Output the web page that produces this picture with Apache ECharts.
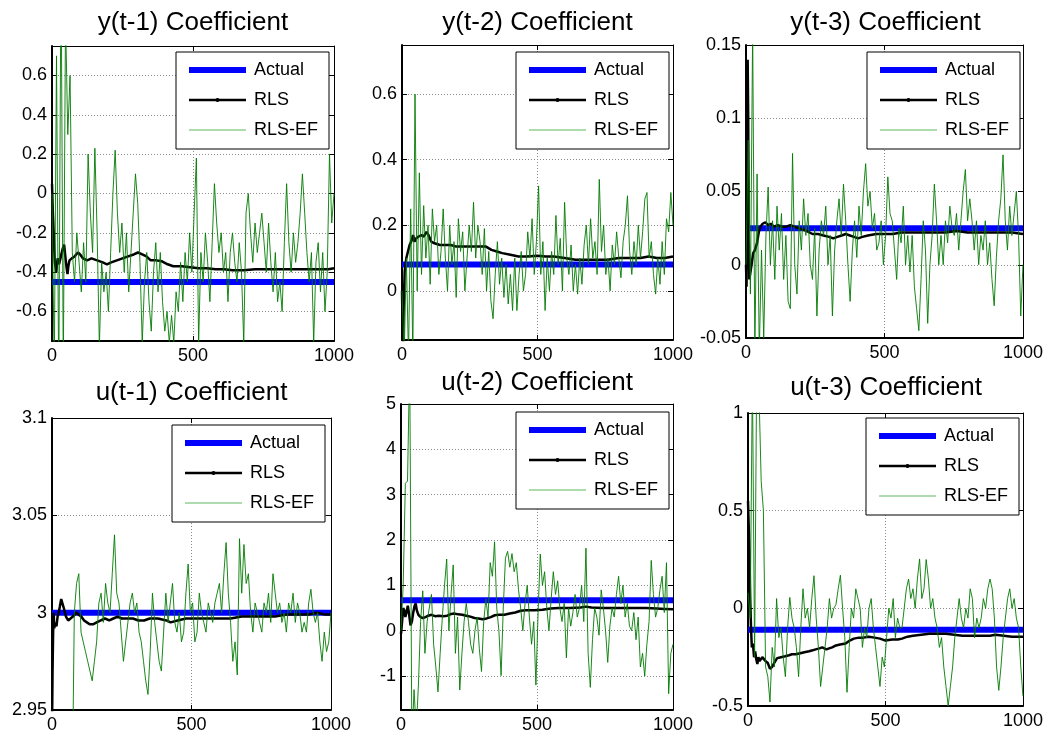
<!DOCTYPE html>
<html>
<head>
<meta charset="utf-8">
<title>RLS coefficient estimates</title>
<script src="https://cdn.jsdelivr.net/npm/echarts@6/dist/echarts.min.js"></script>
<style>
  html, body { margin: 0; padding: 0; background: #ffffff; }
  #chart { width: 1046px; height: 736px; }
</style>
</head>
<body>
<div id="chart"></div>
<script>
// ---- data -------------------------------------------------------------

const titles = [
  'y(t-1) Coefficient', 'y(t-2) Coefficient', 'y(t-3) Coefficient',
  'u(t-1) Coefficient', 'u(t-2) Coefficient', 'u(t-3) Coefficient'
];
const seriesNames = ['Actual', 'RLS', 'RLS-EF'];

// true parameter values
const actualValues = [-0.45, 0.08, 0.025, 3.0, 0.67, -0.11];

// axis ranges and tick labels
const xTicks = [0, 500, 1000];
const yRanges = [[-0.75, 0.75], [-0.15, 0.75], [-0.05, 0.15], [2.95, 3.1], [-1.75, 5], [-0.5, 1]];
const yTicks = [
  [-0.6, -0.4, -0.2, 0, 0.2, 0.4, 0.6],
  [0, 0.2, 0.4, 0.6],
  [-0.05, 0, 0.05, 0.1, 0.15],
  [2.95, 3, 3.05, 3.1],
  [-1, 0, 1, 2, 3, 4, 5],
  [-0.5, 0, 0.5, 1]
];

// RLS estimates: [sample, value]
const rlsY1 = [[0,0.05],[3,-0.1],[6,-0.2],[10,-0.35],[15,-0.40],[20,-0.33],[25,-0.36],[30,-0.33],[38,-0.28],[43,-0.26],
  [48,-0.33],[52,-0.38],[55,-0.41],[58,-0.37],[62,-0.34],[70,-0.33],[80,-0.32],[92,-0.30],[100,-0.31],[110,-0.33],
  [125,-0.34],[140,-0.33],[160,-0.34],[180,-0.35],[195,-0.36],[210,-0.35],[230,-0.34],[250,-0.33],[270,-0.32],[290,-0.31],
  [305,-0.30],[320,-0.31],[335,-0.32],[350,-0.34],[370,-0.34],[390,-0.345],[410,-0.36],[430,-0.37],[460,-0.37],[490,-0.375],
  [520,-0.38],[550,-0.38],[580,-0.385],[610,-0.385],[640,-0.39],[680,-0.39],[720,-0.385],[760,-0.385],[800,-0.385],[850,-0.385],
  [900,-0.385],[950,-0.385],[980,-0.385],[1000,-0.38]];
const rlsY2 = [[0,0.0],[2,-0.10],[4,-0.16],[6,-0.05],[10,0.06],[16,0.10],[22,0.12],[28,0.14],[34,0.15],[41,0.17],
  [46,0.15],[52,0.16],[60,0.165],[72,0.17],[80,0.165],[90,0.18],[98,0.17],[108,0.15],[120,0.145],[140,0.14],
  [160,0.14],[180,0.14],[200,0.135],[220,0.135],[250,0.135],[280,0.135],[310,0.135],[330,0.125],[350,0.12],[370,0.115],
  [400,0.11],[430,0.105],[460,0.105],[500,0.107],[530,0.105],[560,0.105],[600,0.10],[640,0.095],[680,0.095],[720,0.095],
  [760,0.095],[800,0.10],[840,0.10],[880,0.10],[910,0.105],[940,0.10],[970,0.10],[1000,0.105]];
const rlsY3 = [[0,0.0],[2,-0.015],[4,0.06],[6,0.14],[8,0.10],[10,0.02],[12,-0.01],[16,-0.005],[20,0.0],[26,0.008],
  [32,0.01],[40,0.015],[46,0.022],[52,0.026],[60,0.028],[70,0.029],[80,0.027],[90,0.028],[100,0.026],[115,0.027],
  [130,0.026],[145,0.026],[160,0.027],[175,0.026],[190,0.025],[205,0.024],[220,0.023],[240,0.021],[260,0.021],[280,0.02],
  [300,0.019],[315,0.018],[330,0.019],[345,0.02],[360,0.021],[375,0.02],[390,0.019],[405,0.018],[420,0.019],[440,0.02],
  [470,0.021],[500,0.021],[530,0.021],[560,0.022],[600,0.022],[640,0.022],[680,0.022],[720,0.022],[760,0.023],[800,0.022],
  [840,0.022],[880,0.022],[920,0.022],[960,0.022],[1000,0.021]];
const rlsU1 = [[0,2.94],[2,2.97],[4,2.99],[6,3.0],[8,2.992],[12,2.995],[16,2.993],[20,2.998],[24,3.0],[28,3.003],
  [33,3.007],[38,3.006],[43,3.002],[50,2.998],[58,2.996],[65,2.995],[75,2.998],[87,3.0],[95,2.999],[105,2.998],
  [115,2.996],[125,2.995],[135,2.994],[147,2.994],[160,2.995],[175,2.996],[190,2.997],[205,2.996],[220,2.997],[235,2.998],
  [250,2.997],[270,2.997],[290,2.997],[310,2.996],[330,2.996],[350,2.997],[380,2.997],[410,2.996],[425,2.995],[450,2.996],
  [480,2.997],[520,2.997],[560,2.997],[600,2.997],[640,2.997],[680,2.998],[720,2.998],[760,2.998],[800,2.998],[840,2.999],
  [880,2.999],[920,2.999],[950,3.0],[980,2.999],[1000,2.999]];
const rlsU2 = [[0,-0.07],[4,0.2],[8,0.5],[12,0.45],[16,0.3],[20,0.4],[25,0.55],[30,0.35],[35,0.12],[40,0.2],
  [45,0.4],[50,0.55],[54,0.6],[58,0.45],[64,0.35],[72,0.3],[80,0.28],[90,0.3],[100,0.33],[112,0.35],
  [125,0.32],[140,0.33],[155,0.32],[170,0.33],[185,0.37],[195,0.38],[210,0.36],[225,0.35],[240,0.33],[255,0.31],
  [270,0.28],[285,0.27],[300,0.25],[315,0.27],[330,0.3],[345,0.34],[360,0.35],[380,0.35],[400,0.38],[420,0.4],
  [440,0.44],[460,0.45],[490,0.45],[520,0.46],[550,0.49],[580,0.5],[620,0.5],[660,0.51],[680,0.53],[700,0.51],
  [740,0.5],[780,0.5],[820,0.5],[860,0.5],[900,0.5],[940,0.49],[970,0.48],[1000,0.47]];
const rlsU3 = [[0,0.55],[2,0.45],[5,0.3],[8,0.05],[11,-0.1],[14,-0.2],[18,-0.18],[22,-0.25],[26,-0.22],[30,-0.26],
  [34,-0.285],[38,-0.25],[42,-0.27],[46,-0.28],[52,-0.25],[58,-0.26],[64,-0.27],[72,-0.28],[80,-0.31],[88,-0.3],
  [95,-0.28],[106,-0.255],[120,-0.25],[135,-0.245],[149,-0.24],[160,-0.235],[173,-0.235],[190,-0.23],[205,-0.225],[222,-0.22],
  [235,-0.215],[246,-0.21],[260,-0.205],[270,-0.2],[285,-0.21],[295,-0.205],[306,-0.2],[320,-0.19],[335,-0.185],[355,-0.18],
  [370,-0.165],[385,-0.155],[403,-0.15],[420,-0.15],[439,-0.145],[460,-0.15],[480,-0.155],[500,-0.165],[524,-0.16],[545,-0.16],
  [560,-0.155],[580,-0.145],[600,-0.14],[630,-0.135],[660,-0.13],[690,-0.13],[720,-0.13],[750,-0.135],[780,-0.14],[820,-0.14],
  [860,-0.14],[880,-0.14],[900,-0.135],[930,-0.14],[960,-0.145],[1000,-0.145]];

// RLS-EF estimates, one value per entry of efSteps
const efSteps = [0,8,16,24,32,40,48,56,64,72,80,88,96,104,112,120,128,136,144,152,
  160,168,176,184,192,200,208,216,224,232,240,248,256,264,272,280,288,296,304,312,
  320,328,336,344,352,360,368,376,384,392,400,408,416,424,432,440,448,456,464,472,
  480,488,496,504,512,520,528,536,544,552,560,568,576,584,592,600,608,616,624,632,
  640,648,656,664,672,680,688,696,704,712,720,728,736,744,752,760,768,776,784,792,
  800,808,816,824,832,840,848,856,864,872,880,888,896,904,912,920,928,936,944,952,
  960,968,976,984,992,1000];
const efY1 = [0.0,-0.9,0.7,-1.0,1.2,-0.9,0.9,0.3,0.6,-0.3,
  -0.45,-0.2,-0.35,-0.5,-0.25,-0.45,0.2,-0.1,-0.3,0.23,
  -0.2,-0.78,-0.35,-0.5,-0.4,-0.6,-0.3,0.0,0.22,-0.1,
  -0.3,-0.15,-0.4,-0.2,-0.5,-0.3,-0.1,0.1,-0.05,-0.35,
  -0.76,-0.45,-0.3,-0.55,-0.7,-0.4,-0.25,-0.5,-0.3,-0.55,
  -0.7,-0.6,-0.76,-0.62,-0.76,-0.5,-0.6,-0.35,-0.55,-0.3,
  -0.45,-0.2,-0.4,-0.1,0.18,-0.76,-0.3,-0.45,-0.2,-0.35,
  -0.55,-0.25,0.05,-0.15,-0.3,-0.2,-0.4,-0.3,-0.55,-0.3,
  -0.2,-0.35,-0.45,-0.25,-0.4,-0.76,-0.1,0.0,-0.2,-0.35,
  -0.15,-0.3,-0.2,-0.1,-0.25,-0.4,-0.15,-0.35,-0.5,-0.3,
  -0.55,-0.45,-0.6,-0.25,0.05,-0.25,-0.4,-0.2,-0.35,-0.25,
  -0.1,0.1,-0.1,-0.3,-0.45,-0.3,-0.76,-0.35,-0.25,-0.5,
  -0.3,-0.6,-0.4,0.2,-0.15,0.0];
const efY2 = [0.0,-0.2,0.1,-0.2,0.25,-0.2,0.6,0.0,0.36,0.05,
  0.26,0.1,0.2,0.02,0.25,0.15,0.2,0.05,0.12,0.25,
  0.1,0.0,0.2,0.08,0.15,-0.02,0.22,0.12,0.18,0.0,
  0.1,0.2,0.12,0.27,0.1,0.2,0.15,0.05,0.19,0.0,
  0.12,-0.03,-0.085,0.05,0.15,0.02,0.1,-0.02,0.08,-0.04,
  0.05,-0.06,0.1,-0.06,0.05,0.12,0.0,0.05,0.18,0.1,
  0.22,0.05,0.15,0.32,0.05,0.15,-0.06,0.1,0.0,0.12,
  0.05,0.23,0.08,0.16,0.0,0.27,0.1,0.05,0.14,0.0,
  0.08,-0.01,0.1,0.02,0.14,0.2,0.08,0.22,0.1,0.15,
  0.05,0.34,0.12,0.2,0.05,0.1,0.0,0.14,0.08,0.18,
  0.1,0.04,0.15,0.2,0.29,0.12,0.05,0.15,0.08,0.2,
  0.1,0.18,0.28,0.3,0.1,0.15,0.05,-0.01,0.1,0.02,
  0.15,0.05,0.22,0.18,0.3,0.2];
const efY3 = [0.0,0.085,-0.02,0.16,-0.06,0.062,-0.06,0.01,-0.05,0.02,
  0.053,0.0,0.03,-0.01,0.04,0.01,0.035,-0.01,0.02,-0.025,
  -0.03,0.076,0.0,-0.02,0.03,0.01,0.045,0.02,0.035,0.0,
  -0.01,0.025,-0.035,0.01,0.03,0.02,0.04,0.0,0.02,-0.035,
  0.01,0.03,0.045,0.02,0.055,0.03,0.0,-0.025,0.01,0.03,
  0.005,0.04,0.02,0.05,0.069,0.04,0.05,0.025,0.035,0.01,
  0.015,0.03,0.0,0.02,0.06,0.035,0.03,0.01,-0.01,0.025,
  0.015,0.04,0.0,0.02,-0.005,0.02,-0.015,-0.03,-0.045,-0.01,
  0.03,0.01,-0.04,0.0,0.02,0.055,0.03,0.0,0.02,0.0,
  0.03,0.015,0.04,0.025,0.02,0.035,0.01,0.03,0.05,0.065,
  0.03,0.045,0.03,0.01,0.03,0.0,0.02,0.01,0.03,0.0,
  0.015,-0.01,-0.028,0.005,0.03,0.045,0.075,0.03,0.01,0.04,
  0.02,0.035,0.05,0.02,-0.035,0.0];
const efU1 = [2.90,2.88,2.92,2.86,2.91,2.89,2.93,2.87,2.92,2.90,
  3.0,3.015,3.02,2.99,2.985,2.98,2.975,2.97,2.965,2.975,
  2.985,3.005,3.01,2.995,3.015,3.005,3.0,3.02,3.04,3.01,
  3.005,2.99,2.975,2.985,2.995,3.005,3.01,3.0,3.005,2.99,
  2.985,2.975,2.965,2.958,2.98,3.01,2.995,2.985,2.975,2.97,
  2.99,3.01,2.995,3.005,3.015,2.995,2.99,3.0,2.985,2.99,
  3.01,3.025,3.0,3.005,2.985,2.99,3.01,3.0,2.995,2.99,
  3.005,3.0,2.995,3.005,3.01,3.015,3.0,3.02,3.036,3.01,
  2.995,2.975,2.985,2.968,3.038,3.01,3.035,3.015,3.02,3.0,
  2.99,3.005,3.0,2.995,2.99,3.005,3.0,3.01,2.995,3.02,
  3.01,3.0,3.005,2.995,3.0,2.99,3.005,3.0,3.01,2.995,
  3.005,3.0,2.99,2.995,2.99,3.005,3.012,3.0,2.995,3.0,
  2.985,2.975,2.99,2.98,2.985,3.0];
const efU2 = [0.0,1.0,3.25,3.3,6.0,-2.5,-1.3,-2.2,-1.2,0.2,
  0.88,-0.5,0.2,0.5,0.8,-0.3,-0.8,-1.35,-0.5,0.3,
  1.0,1.58,0.0,0.8,1.45,-0.5,0.3,-1.31,-0.5,0.2,
  0.6,0.2,-0.3,-0.5,0.0,0.3,-0.4,-0.9,0.2,0.7,
  0.3,1.5,1.2,1.96,0.5,0.0,-0.99,0.5,1.6,1.75,
  1.4,1.7,1.3,1.5,0.9,0.5,0.0,0.6,1.0,0.3,
  -0.3,0.2,-1.2,0.4,1.69,1.0,1.3,0.5,0.0,0.7,
  1.3,0.8,1.1,0.5,0.2,0.6,-0.6,0.5,0.1,0.4,
  0.8,0.3,0.5,1.0,0.2,1.82,-0.5,-1.25,-0.2,0.5,
  0.3,-0.1,0.9,0.5,0.0,-0.7,0.1,0.5,0.3,0.8,
  1.2,0.6,1.0,0.3,0.6,0.1,0.0,0.4,-0.2,0.3,
  -0.8,-0.5,-1.0,-0.3,0.2,1.55,0.8,0.3,0.5,0.9,
  1.2,0.4,1.5,-1.39,-0.5,-0.3];
const efU3 = [0.08,-0.05,1.2,-0.25,1.3,1.1,0.65,0.5,-0.3,-0.35,
  -0.48,-0.2,-0.3,0.05,-0.15,-0.1,-0.25,-0.35,-0.1,0.056,
  -0.05,-0.1,-0.2,-0.35,-0.1,0.1,-0.05,0.0,-0.1,0.05,
  0.167,-0.05,-0.2,-0.4,-0.3,-0.2,-0.1,0.05,-0.05,0.0,
  0.02,0.1,0.17,0.0,-0.15,-0.43,-0.2,0.0,-0.05,0.1,
  0.05,0.0,-0.2,-0.1,-0.15,0.0,0.05,-0.1,-0.2,-0.3,
  -0.4,-0.25,-0.3,-0.15,0.0,-0.05,0.05,-0.15,-0.05,-0.1,
  -0.1,0.0,0.1,0.15,0.05,0.1,0.0,0.15,0.253,0.05,
  0.1,0.25,0.15,0.0,0.05,-0.05,-0.1,-0.2,-0.15,-0.3,
  -0.4,-0.5,-0.4,-0.3,-0.15,-0.05,0.05,-0.05,-0.1,0.0,
  -0.05,0.1,0.05,-0.15,-0.05,-0.1,-0.05,0.05,0.0,0.1,
  0.15,0.1,-0.05,-0.3,-0.42,-0.3,-0.15,-0.05,0.05,0.1,
  0.0,0.05,-0.05,-0.1,-0.3,-0.45];

const rlsData = [rlsY1, rlsY2, rlsY3, rlsU1, rlsU2, rlsU3];
const efData = [efY1, efY2, efY3, efU1, efU2, efU3];

// ---- layout -----------------------------------------------------------

const FONT = '"Liberation Sans", Arial, Helvetica, sans-serif';
const panels = [
  { grid: { left: 52,  top: 46,  width: 282, height: 295 }, title: [193, 23],    legend: [176, 52] },
  { grid: { left: 402, top: 45,  width: 271, height: 295 }, title: [537.5, 23],  legend: [516, 52] },
  { grid: { left: 746, top: 45,  width: 279, height: 293 }, title: [885.5, 23],  legend: [867, 52] },
  { grid: { left: 52,  top: 418, width: 279, height: 292 }, title: [191.5, 393], legend: [172, 425] },
  { grid: { left: 401, top: 404, width: 272, height: 306 }, title: [537, 383],   legend: [516, 412] },
  { grid: { left: 748, top: 413, width: 276, height: 293 }, title: [886, 387.5], legend: [866, 418] }
];

const gridLine = { show: true, lineStyle: { color: '#8c8c8c', width: 1, type: [1, 2] } };
const tickIn = { show: true, inside: true, length: 5, lineStyle: { color: '#000', width: 1 } };
const labelFont = { color: '#000', fontSize: 18, fontFamily: FONT };
const plainNumber = v => String(v);

const option = {
  animation: false,
  backgroundColor: '#ffffff',
  title: [], grid: [], xAxis: [], yAxis: [], legend: [], series: []
};

panels.forEach((p, i) => {
  const [ymin, ymax] = yRanges[i];

  option.title.push({
    text: titles[i],
    left: p.title[0], top: p.title[1],
    textAlign: 'center', textVerticalAlign: 'middle', padding: 0,
    textStyle: { fontSize: 26, fontWeight: 'normal', color: '#000', fontFamily: FONT }
  });

  option.grid.push(Object.assign({ show: false }, p.grid));

  // bottom and top x axes (box outline with inner ticks)
  option.xAxis.push({
    type: 'value', gridIndex: i, position: 'bottom', min: 0, max: 1000,
    axisLabel: Object.assign({ margin: 6, customValues: xTicks, formatter: plainNumber }, labelFont),
    axisTick: Object.assign({ customValues: xTicks }, tickIn),
    axisLine: { show: true, onZero: false, lineStyle: { color: '#000', width: 2 } },
    splitLine: gridLine
  });
  option.xAxis.push({
    type: 'value', gridIndex: i, position: 'top', min: 0, max: 1000,
    axisLabel: { show: false },
    axisTick: Object.assign({ customValues: xTicks }, tickIn),
    axisLine: { show: true, onZero: false, lineStyle: { color: '#000', width: 1 } },
    splitLine: { show: false }
  });

  // left and right y axes
  option.yAxis.push({
    type: 'value', gridIndex: i, position: 'left', min: ymin, max: ymax,
    axisLabel: Object.assign({ margin: 5, customValues: yTicks[i], formatter: plainNumber,
      showMinLabel: true, showMaxLabel: true }, labelFont),
    axisTick: Object.assign({ customValues: yTicks[i] }, tickIn),
    axisLine: { show: true, onZero: false, lineStyle: { color: '#000', width: 2 } },
    splitLine: gridLine
  });
  option.yAxis.push({
    type: 'value', gridIndex: i, position: 'right', min: ymin, max: ymax,
    axisLabel: { show: false },
    axisTick: Object.assign({ customValues: yTicks[i] }, tickIn),
    axisLine: { show: true, onZero: false, lineStyle: { color: '#000', width: 1 } },
    splitLine: { show: false }
  });

  option.legend.push({
    left: p.legend[0], top: p.legend[1], orient: 'vertical',
    selectedMode: false,
    data: [
      { name: seriesNames[0], lineStyle: { width: 6 }, itemStyle: { opacity: 0 } },
      { name: seriesNames[1], lineStyle: { width: 2.5 } },
      { name: seriesNames[2], lineStyle: { width: 1, color: '#5cb85c' }, itemStyle: { opacity: 0 } }
    ],
    itemWidth: 57, itemHeight: 5, itemGap: 10,
    padding: [8, 11, 9, 10],
    backgroundColor: '#ffffff', borderColor: '#000', borderWidth: 1,
    textStyle: { fontSize: 18, color: '#000', fontFamily: FONT, lineHeight: 20, padding: [0, 0, 0, 3] }
  });

  const axisRef = { xAxisIndex: 2 * i, yAxisIndex: 2 * i };

  option.series.push(Object.assign({
    name: seriesNames[0], type: 'line', silent: true, symbol: 'none', z: 2,
    data: [[0, actualValues[i]], [1000, actualValues[i]]],
    lineStyle: { color: '#0000ff', width: 6 }, itemStyle: { color: '#0000ff' }
  }, axisRef));

  option.series.push(Object.assign({
    name: seriesNames[1], type: 'line', silent: true, symbol: 'circle', symbolSize: 4,
    showSymbol: false, z: 3,
    data: rlsData[i],
    lineStyle: { color: '#000000', width: 2.5 }, itemStyle: { color: '#000000' }
  }, axisRef));

  option.series.push(Object.assign({
    name: seriesNames[2], type: 'line', silent: true, symbol: 'none', z: 4,
    data: efSteps.map((t, k) => [t, efData[i][k]]),
    lineStyle: { color: '#007a00', width: 0.9 }, itemStyle: { color: '#007a00' }
  }, axisRef));
});

const chart = echarts.init(document.getElementById('chart'), null, { renderer: 'canvas' });
chart.setOption(option);
</script>
</body>
</html>
